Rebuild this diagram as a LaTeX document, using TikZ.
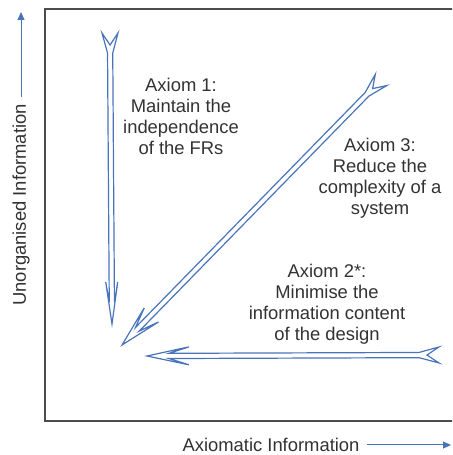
\documentclass[tikz,border=0pt]{standalone}
\usepackage{fontspec}
\setmainfont{Liberation Sans}
\usetikzlibrary{calc,arrows.meta}
\definecolor{axiomblue}{RGB}{74,116,186}
\definecolor{labelgray}{RGB}{50,50,50}
% hollow arrow with notched tail: tail, tip, half-width of the head
\newcommand{\axiomarrow}[3]{%
	\draw[axiom arrow] let \p1=($(#2)-(#1)$), \n1={atan2(\y1,\x1)}, \n2={veclen(\x1,\y1)} in
		($(#1)+({\n1+90}:4pt)$) -- ($(#1)+(\n1:10pt)+({\n1+90}:1.3pt)$)
		-- ($(#1)+(\n1:{\n2-11pt})+({\n1+90}:1.3pt)$) -- ($(#1)+(\n1:{\n2-21pt})+({\n1+90}:#3)$)
		-- (#2)
		-- ($(#1)+(\n1:{\n2-21pt})+({\n1-90}:#3)$) -- ($(#1)+(\n1:{\n2-11pt})+({\n1-90}:1.3pt)$)
		-- ($(#1)+(\n1:10pt)+({\n1-90}:1.3pt)$) -- ($(#1)+({\n1-90}:4pt)$)
		-- ($(#1)+(\n1:6pt)$) -- cycle;}
\begin{document}
\begin{tikzpicture}[x=0.5pt,y=0.5pt,
		axiom arrow/.style={draw=axiomblue,line width=0.6pt,fill=white,line join=miter},
		axis arrow/.style={draw=axiomblue,line width=0.5pt,-{Triangle[length=4pt,width=3.5pt]}},
		frame/.style={draw=black!70,line width=1pt},
		axiom text/.style={align=center,text=labelgray,font=\fontsize{9.2}{10.5}\selectfont},
		axis text/.style={text=labelgray,font=\fontsize{9.2}{11}\selectfont}]
	\clip (0,0) rectangle (452,455);
	\draw[frame] (45,34) rectangle (462,446);
	% axes
	\node[axis text,rotate=90] (ylab) at (21,250) {Unorganised Information};
	\coordinate (ytip) at (21,443);
	\draw[axis arrow] (ylab) -- (ytip);
	\node[axis text] (xlab) at (271,10) {Axiomatic Information};
	\coordinate (xtip) at (451,10);
	\draw[axis arrow] (xlab) -- (xtip);
	% axioms
	\coordinate (tail1) at (110,422);
	\coordinate (tip1) at (112,131);
	\coordinate (tail3) at (381,375);
	\coordinate (tip3) at (122,110);
	\coordinate (tail2) at (439,100);
	\coordinate (tip2) at (147,99);
	\axiomarrow{tail1}{tip1}{3pt}
	\axiomarrow{tail3}{tip3}{5pt}
	\axiomarrow{tail2}{tip2}{4.5pt}
	\node[axiom text] (ax1) at (181,339) {Axiom 1:\\Maintain the\\independence\\of the FRs};
	\node[axiom text] (ax3) at (380,277) {Axiom 3:\\Reduce the\\complexity of a\\system};
	\node[axiom text] (ax2) at (327,151) {Axiom 2*:\\Minimise the\\information content\\of the design};
\end{tikzpicture}
\end{document}
